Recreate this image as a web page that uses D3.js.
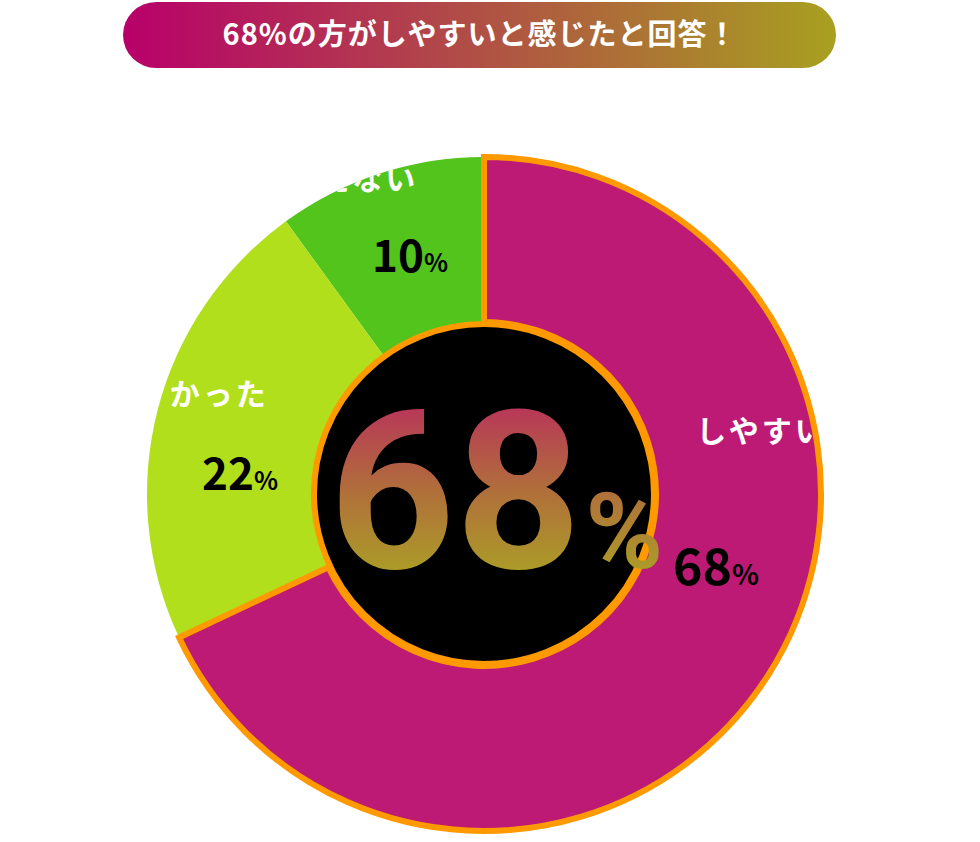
<!DOCTYPE html>
<html><head><meta charset="utf-8">
<script src="https://cdn.jsdelivr.net/npm/d3@7"></script>
<style>body{margin:0;background:#fff}</style></head>
<body><svg id="c" width="980" height="842"></svg>
<script>
const categories=["しやすい","しにくかった","どちらともいえない"];
const values=[68,22,10];
const colors=["#bc1a74","#b2df1c","#52c41c"];
const title="68%の方がしやすいと感じたと回答！";
const svg=d3.select("#c");
const defs=svg.append("defs");
const tg=defs.append("linearGradient").attr("id","tg");
tg.append("stop").attr("offset","0").attr("stop-color","#b8006a");
tg.append("stop").attr("offset","1").attr("stop-color","#a8a020");
const cg=defs.append("linearGradient").attr("id","cg").attr("x1",0).attr("x2",0).attr("y1",0).attr("y2",1);
cg.append("stop").attr("offset","0").attr("stop-color","#bc1a68");
cg.append("stop").attr("offset","0.5").attr("stop-color","#b0703a");
cg.append("stop").attr("offset","1").attr("stop-color","#a8b81c");
svg.append("rect").attr("x",123).attr("y",2).attr("width",713).attr("height",66).attr("rx",33).attr("fill","url(#tg)");
svg.append("text").attr("x",480).attr("y",45).attr("text-anchor","middle").attr("fill","#fff")
 .attr("font-family","Noto Sans CJK JP").attr("font-weight","bold").attr("font-size",29).attr("letter-spacing",1).text(title);
const cx=484,cy=494,R=337,r=172;
const g=svg.append("g").attr("transform",`translate(${cx},${cy})`);
const pie=d3.pie().sort(null).value(d=>d)(values);
const arc=d3.arc().innerRadius(r).outerRadius(R);
pie.forEach((p,i)=>defs.append("clipPath").attr("id","cl"+i).append("path").attr("d",arc(p)).attr("transform",`translate(${cx},${cy})`));
// draw non-highlight first
[2,1,0].forEach(i=>{
  g.append("path").attr("d",arc(pie[i])).attr("fill",colors[i])
   .attr("stroke",i==0?"#ff9900":"none").attr("stroke-width",6).attr("stroke-linejoin","miter");
});
g.append("circle").attr("r",r-2).attr("fill","#000").attr("stroke","#ff9900").attr("stroke-width",6);
// category labels clipped to slice
const labPos=[[762,442],[170,405],[270,190]];
const pctPos=[[716,585],[240,490],[410,272]];
categories.forEach((c,i)=>{
  svg.append("g").attr("clip-path",`url(#cl${i})`).append("text")
   .attr("x",labPos[i][0]).attr("y",labPos[i][1]).attr("text-anchor","middle").attr("fill","#fff")
   .attr("font-family","Noto Sans CJK JP").attr("font-weight","bold").attr("font-size",30).attr("letter-spacing",3).text(c);
  const t=svg.append("text").attr("x",pctPos[i][0]).attr("y",pctPos[i][1]).attr("text-anchor","middle")
   .attr("font-family","Noto Sans CJK JP").attr("font-weight","bold").attr("fill","#000");
  t.append("tspan").attr("font-size",i==0?50:44).text(values[i]);
  t.append("tspan").attr("font-size",i==0?28:25).text("%");
});
const ct=svg.append("text").attr("x",496).attr("y",568).attr("text-anchor","middle").attr("fill","url(#cg)")
 .attr("font-family","Liberation Sans Narrow, Roboto").attr("font-weight","bold");
ct.append("tspan").attr("font-size",220).text(values[0]);
ct.append("tspan").attr("font-size",105).attr("dx",4).text("%");
</script></body></html>
